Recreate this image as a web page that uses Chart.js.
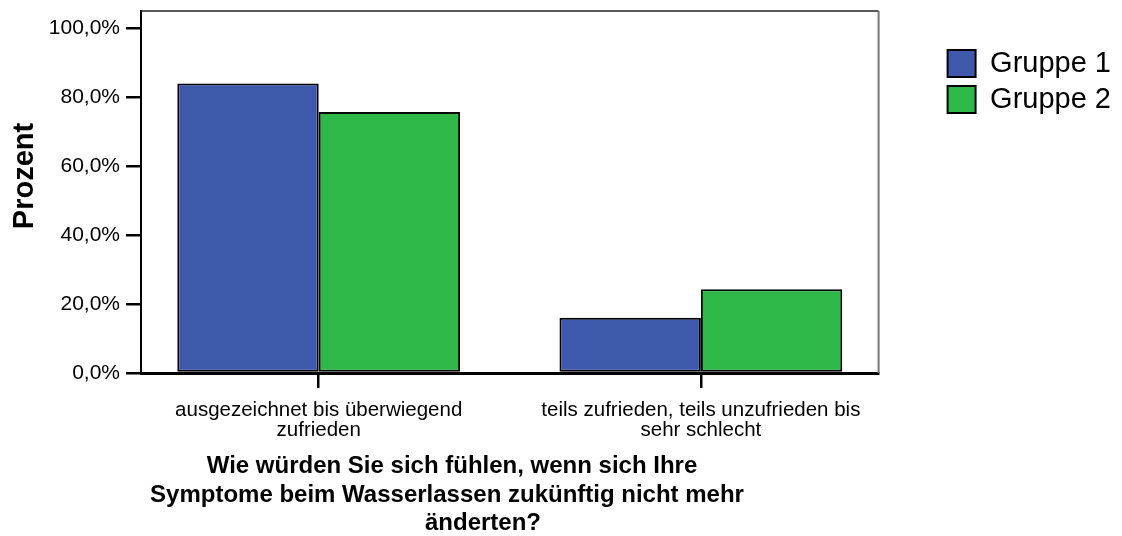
<!DOCTYPE html>
<html>
<head>
<meta charset="utf-8">
<title>Zufriedenheit Symptome</title>
<script src="https://cdn.jsdelivr.net/npm/chart.js@4.4.0/dist/chart.umd.min.js"></script>
<style>
  body { margin: 0; background: #fff; }
  #chart1 { display: block; }
</style>
</head>
<body>
<canvas id="chart1" width="1122" height="536"></canvas>
<script>
// answer categories on the x axis, one entry per label line
var categories = [
    ['ausgezeichnet bis überwiegend', 'zufrieden'],
    ['teils zufrieden, teils unzufrieden bis', 'sehr schlecht']
];
var seriesNames = ['Gruppe 1', 'Gruppe 2'];
// percent per group
var gruppe1 = [84.0, 16.0];
var gruppe2 = [75.7, 24.3];
var percentTicks = [0, 20, 40, 60, 80, 100];
var yTitle = 'Prozent';
var questionLines = [
    'Wie würden Sie sich fühlen, wenn sich Ihre',
    'Symptome beim Wasserlassen zukünftig nicht mehr',
    'änderten?'
];

var fontFamily = 'Arial, "Liberation Sans", sans-serif';
Chart.defaults.color = '#000';
Chart.defaults.font.family = fontFamily;

function toPoints(values) {
    return values.map(function (v, i) { return { x: i, y: v }; });
}

function percentLabel(v) {
    return v.toFixed(1).replace('.', ',') + '%';
}

// top and right edge of the plot box
var plotFrame = {
    id: 'plotFrame',
    beforeDatasetsDraw: function (chart) {
        var a = chart.chartArea, ctx = chart.ctx;
        ctx.save();
        ctx.lineWidth = 1.5;
        ctx.strokeStyle = '#222';
        ctx.beginPath();
        ctx.moveTo(a.left, a.top);
        ctx.lineTo(a.right, a.top);
        ctx.stroke();
        ctx.lineWidth = 2;
        ctx.strokeStyle = '#777';
        ctx.beginPath();
        ctx.moveTo(a.right, a.top);
        ctx.lineTo(a.right, a.bottom);
        ctx.stroke();
        ctx.restore();
    }
};

// axis titles: "Prozent" on the left, the question under the x axis
var axisTitles = {
    id: 'axisTitles',
    afterDraw: function (chart) {
        var ctx = chart.ctx;
        var pos = [[452, 473], [447, 502], [483, 530]];
        ctx.save();
        ctx.fillStyle = '#000';
        ctx.textAlign = 'center';
        ctx.textBaseline = 'alphabetic';
        ctx.font = 'bold 24px ' + fontFamily;
        questionLines.forEach(function (line, i) {
            ctx.fillText(line, pos[i][0], pos[i][1]);
        });
        ctx.translate(33, 176);
        ctx.rotate(-Math.PI / 2);
        ctx.font = 'bold 29px ' + fontFamily;
        ctx.fillText(yTitle, 0, 0);
        ctx.restore();
    }
};

// push the legend away from the plot box and down a bit
var legendNudge = {
    id: 'legendNudge',
    afterLayout: function (chart) {
        var lg = chart.legend;
        lg.left += 62;
        lg.right += 62;
        lg.top += 31;
        lg.bottom += 31;
    }
};

new Chart(document.getElementById('chart1'), {
    type: 'bar',
    data: {
        datasets: [
            {
                label: seriesNames[0],
                data: toPoints(gruppe1),
                backgroundColor: '#3E58AC',
                borderColor: '#000',
                borderWidth: 2,
                borderSkipped: false
            },
            {
                label: seriesNames[1],
                data: toPoints(gruppe2),
                backgroundColor: '#2EB848',
                borderColor: '#000',
                borderWidth: 2,
                borderSkipped: false
            }
        ]
    },
    options: {
        responsive: false,
        animation: false,
        categoryPercentage: 0.74,
        barPercentage: 1.0,
        layout: { padding: { top: 11, right: 63, left: 0, bottom: 0 } },
        plugins: {
            legend: {
                position: 'right',
                align: 'start',
                labels: { boxWidth: 28, boxHeight: 27, padding: 7, font: { size: 29 } }
            },
            tooltip: { enabled: false }
        },
        scales: {
            x: {
                type: 'linear',
                offset: false,
                min: -0.465,
                max: 1.465,
                afterBuildTicks: function (scale) {
                    scale.ticks = categories.map(function (c, i) { return { value: i }; });
                },
                afterFit: function (scale) {
                    scale.height = 163;
                    scale.paddingLeft = 0;
                    scale.paddingRight = 0;
                },
                ticks: {
                    callback: function (v) { return categories[v]; },
                    font: { size: 20.5, lineHeight: '20px' },
                    padding: 12,
                    maxRotation: 0,
                    autoSkip: false
                },
                grid: { offset: false, drawOnChartArea: false, tickLength: 15, color: '#000', lineWidth: 2.5 },
                border: { color: '#000', width: 3 }
            },
            y: {
                min: 0,
                max: 105,
                afterBuildTicks: function (scale) {
                    scale.ticks = percentTicks.map(function (v) { return { value: v }; });
                },
                afterFit: function (scale) {
                    scale.width = 141;
                    scale.paddingTop = 0;
                    scale.paddingBottom = 0;
                },
                ticks: { callback: percentLabel, font: { size: 21 }, padding: 6 },
                grid: { drawOnChartArea: false, tickLength: 15, color: '#000', lineWidth: 2.5 },
                border: { color: '#000', width: 2 }
            }
        }
    },
    plugins: [plotFrame, axisTitles, legendNudge]
});
</script>
</body>
</html>
